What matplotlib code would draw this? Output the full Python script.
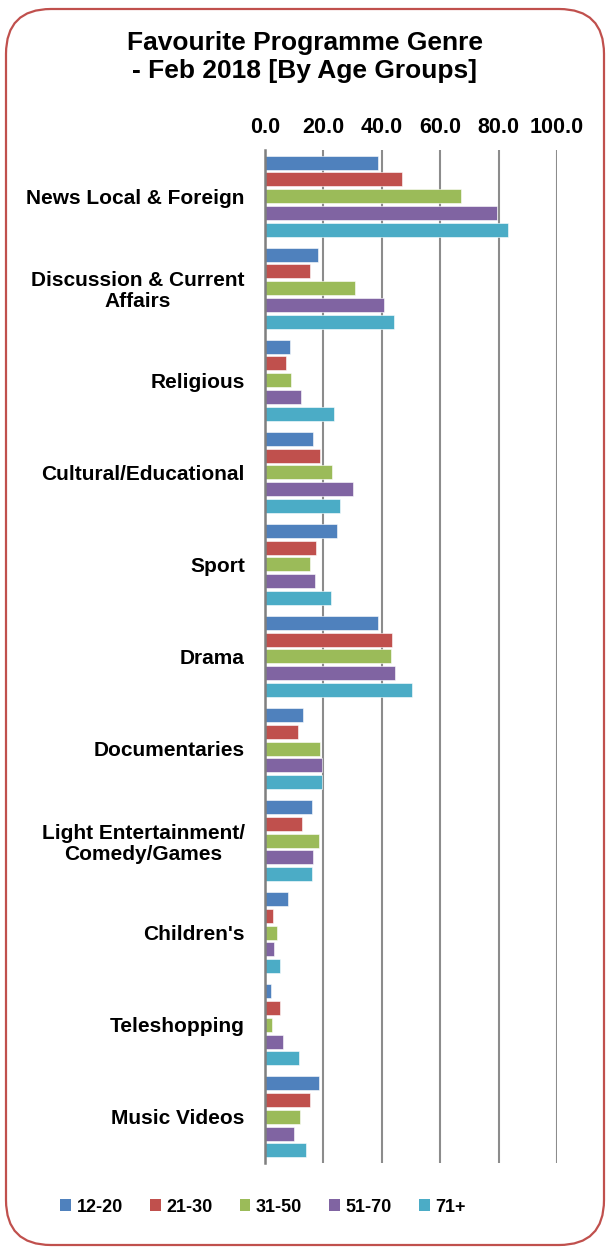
import numpy as np
import matplotlib
matplotlib.use('Agg')
import matplotlib.pyplot as plt
from matplotlib.patches import FancyBboxPatch, Patch

plt.rcParams['font.family'] = ['Liberation Sans', 'DejaVu Sans']
plt.rcParams['font.weight'] = 'bold'

genres = ['News Local & Foreign', 'Discussion & Current\nAffairs', 'Religious',
          'Cultural/Educational', 'Sport', 'Drama', 'Documentaries',
          'Light Entertainment/\nComedy/Games', "Children's", 'Teleshopping',
          'Music Videos']
age_groups = ['12-20', '21-30', '31-50', '51-70', '71+']

age_12_20 = [38.7, 18.0, 8.5, 16.5, 24.7, 38.6, 13.0, 16.2, 8.0, 2.1, 18.6]
age_21_30 = [46.9, 15.3, 7.2, 18.8, 17.4, 43.4, 11.4, 12.8, 2.6, 5.1, 15.4]
age_31_50 = [67.2, 30.9, 8.8, 22.9, 15.5, 43.2, 18.9, 18.6, 4.2, 2.5, 12.0]
age_51_70 = [79.4, 40.8, 12.2, 30.0, 17.1, 44.5, 19.6, 16.4, 3.1, 6.0, 10.0]
age_71_up = [83.3, 44.3, 23.8, 25.6, 22.7, 50.3, 19.5, 16.1, 5.0, 11.5, 14.1]

series = [age_12_20, age_21_30, age_31_50, age_51_70, age_71_up]
colors = ['#4F81BD', '#C0504D', '#9BBB59', '#8064A2', '#4BACC6']

fig = plt.figure(figsize=(6.1, 12.49), dpi=100, facecolor='white')

# rounded red frame round the whole chart
frame = FancyBboxPatch((0.06, 0.04), 5.98, 12.36,
                       boxstyle='round,pad=0,rounding_size=0.45',
                       transform=fig.dpi_scale_trans, facecolor='none',
                       edgecolor='#C0504D', linewidth=1.6, zorder=5)
fig.patches.append(frame)

ax = fig.add_axes([0.4344, 0.0689, 0.4787, 0.811])
ax.set_facecolor('none')

y = np.arange(len(genres))
slot = 0.182
bar_h = 0.152
for k, (vals, c) in enumerate(zip(series, colors)):
    offs = (k - 2) * slot
    ax.barh(y + offs, vals, height=bar_h, color=c, label=age_groups[k],
            edgecolor='white', linewidth=0.4, zorder=3)

ax.set_xlim(0, 100)
ax.set_ylim(len(genres) - 0.5, -0.5)
ax.set_xticks(np.arange(0, 101, 20))
ax.set_xticklabels(['%.1f' % v for v in np.arange(0, 101, 20)], fontsize=15.5,
                   fontweight='bold')
ax.xaxis.tick_top()
ax.tick_params(axis='x', length=0, pad=9)
ax.set_yticks(y)
ax.set_yticklabels(genres, fontsize=15, fontweight='bold', linespacing=1.15)
ax.tick_params(axis='y', length=0, pad=14.5)
for lbl in ax.get_yticklabels():
    lbl.set_horizontalalignment('right')
    lbl.set_multialignment('center')

ax.grid(axis='x', color='#8c8c8c', linewidth=1.5, zorder=1)
for s in ['top', 'right', 'bottom']:
    ax.spines[s].set_visible(False)
ax.spines['left'].set_color('#7f7f7f')
ax.spines['left'].set_linewidth(1.8)
ax.spines['left'].set_zorder(4)

fig.text(0.5, 1 - 57 / 1249, 'Favourite Programme Genre\n- Feb 2018 [By Age Groups]',
         ha='center', va='center', fontsize=19, fontweight='bold',
         linespacing=1.2)

handles = [Patch(facecolor=c, label=g) for c, g in zip(colors, age_groups)]
fig.legend(handles=handles, loc='center', bbox_to_anchor=(263 / 610, 1 - 1207 / 1249),
           ncol=5, frameon=False, handlelength=0.6, handleheight=0.6,
           handletextpad=0.3, columnspacing=1.5,
           prop={'weight': 'bold', 'size': 13})

fig.savefig('out.png', dpi=100)
